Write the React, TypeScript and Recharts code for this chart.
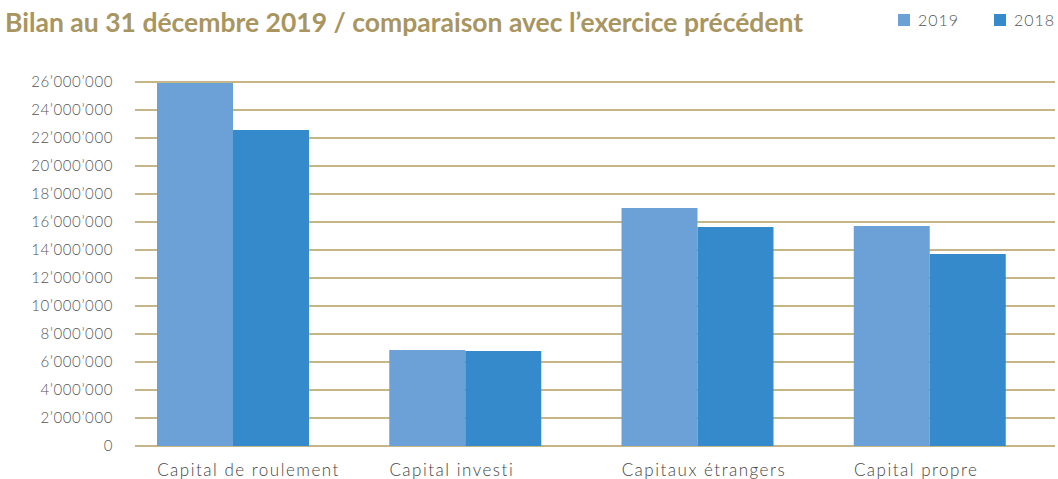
import { Bar, BarChart, CartesianGrid, XAxis, YAxis } from "recharts";

const CATEGORIES = ["Capital de roulement", "Capital investi", "Capitaux étrangers", "Capital propre"];
const VALUES_2019 = [25930000, 6860000, 17000000, 15710000];
const VALUES_2018 = [22570000, 6790000, 15640000, 13710000];
const Y_TICKS = [0, 2e6, 4e6, 6e6, 8e6, 10e6, 12e6, 14e6, 16e6, 18e6, 20e6, 22e6, 24e6, 26e6];

const COLOR_2019 = "#6ba1d7";
const COLOR_2018 = "#348acb";
const GOLD = "#a8955f";
const FONT = "Lato, 'Open Sans', sans-serif";

const data = CATEGORIES.map((name, i) => ({ name, v2019: VALUES_2019[i], v2018: VALUES_2018[i] }));

const fmt = (v: number) => String(v).replace(/\B(?=(\d{3})+(?!\d))/g, "’");

function LegendBox({ color, label, left }: { color: string; label: string; left: number }) {
  return (
    <div style={{ position: "absolute", left, top: 10, display: "flex", alignItems: "center" }}>
      <div style={{ width: 12, height: 12, background: color, marginRight: 8 }} />
      <span style={{ fontSize: 16, color: "#555", fontFamily: FONT, fontWeight: 300, letterSpacing: 1 }}>
        {label}
      </span>
    </div>
  );
}

// labels start at the left edge of the first bar in each group
function CategoryTick(props: any) {
  const { x, y, payload } = props;
  return (
    <text
      x={x - 76}
      y={y + 16}
      dy="0.71em"
      textAnchor="start"
      fontSize={17}
      fill="#444"
      fontFamily={FONT}
      fontWeight={300}
      letterSpacing={1.5}
    >
      {payload.value}
    </text>
  );
}

export default function App() {
  return (
    <div style={{ position: "absolute", left: 0, top: 0, width: 1058, height: 479, background: "#fff" }}>
      <div
        style={{
          position: "absolute",
          left: 5,
          top: 6,
          fontFamily: FONT,
          fontWeight: 700,
          fontSize: 26.5,
          color: GOLD,
          whiteSpace: "nowrap",
        }}
      >
        Bilan au 31 décembre 2019 / comparaison avec l’exercice précédent
      </div>
      <LegendBox color={COLOR_2019} label="2019" left={898} />
      <LegendBox color={COLOR_2018} label="2018" left={994} />
      <BarChart
        width={1058}
        height={479}
        data={data}
        margin={{ top: 82, right: 12, bottom: 3, left: 0 }}
        barCategoryGap={40}
        barGap={0}
      >
        <CartesianGrid vertical={false} x={135} width={920} stroke="#b39c5f" strokeWidth={1.6} />
        <XAxis
          dataKey="name"
          height={30}
          axisLine={false}
          tickLine={false}
          tickSize={0}
          tick={<CategoryTick />}
        />
        <YAxis
          width={117}
          domain={[0, 26e6]}
          ticks={Y_TICKS}
          interval={0}
          axisLine={false}
          tickLine={false}
          tickSize={0}
          tickMargin={4}
          tickFormatter={fmt}
          tick={{ fontSize: 15, fill: "#555", fontFamily: FONT, fontWeight: 300, letterSpacing: 0.6 }}
        />
        <Bar dataKey="v2019" fill={COLOR_2019} isAnimationActive={false} />
        <Bar dataKey="v2018" fill={COLOR_2018} isAnimationActive={false} />
      </BarChart>
    </div>
  );
}
